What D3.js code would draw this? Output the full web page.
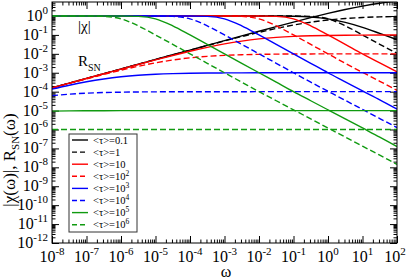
<!DOCTYPE html>
<html><head><meta charset="utf-8">
<script src="https://cdn.jsdelivr.net/npm/d3@7"></script>
<style>
html,body{margin:0;padding:0;background:#fff;}
svg{display:block;font-family:"Liberation Serif","Times New Roman",serif;}
</style></head>
<body><svg id="c" width="409" height="280"></svg>
<script>
// log10(omega) sample grid
const omegaExp = [-8,-7.5,-7,-6.5,-6,-5.5,-5,-4.5,-4,-3.5,-3,-2.5,-2,-1.5,-1,-0.5,0,0.5,1,1.5,2];
// |chi(omega)| as log10 values, one array per <tau>
const chiTau01  = [0,0,0,0,0,0,0,0,0,0,0,0,0,0,-0.01,-0.05,-0.15,-0.34,-0.6,-0.92,-1.25];
const chiTau1   = [0,0,0,0,0,0,0,0,0,0,0,0,0,0,-0.002,-0.021,-0.151,-0.521,-1.002,-1.5,-1.97];
const chiTau1e1 = [0,0,0,0,0,0,0,0,0,0,0,0,-0.002,-0.021,-0.151,-0.521,-1.002,-1.5,-2.0,-2.48,-2.95];
const chiTau1e2 = [0,0,0,0,0,0,0,0,0,0,-0.002,-0.021,-0.151,-0.521,-1.002,-1.5,-2.0,-2.5,-2.98,-3.45,-3.93];
const chiTau1e3 = [0,0,0,0,0,0,0,0,-0.002,-0.021,-0.151,-0.521,-1.002,-1.5,-2.0,-2.5,-3.0,-3.48,-3.96,-4.43,-4.92];
const chiTau1e4 = [0,0,0,0,0,0,-0.002,-0.021,-0.151,-0.521,-1.002,-1.5,-2.0,-2.5,-3.0,-3.5,-3.98,-4.46,-4.94,-5.42,-5.9];
const chiTau1e5 = [0,0,0,0,-0.002,-0.021,-0.151,-0.521,-1.002,-1.5,-2.0,-2.5,-3.0,-3.5,-4.0,-4.48,-4.96,-5.44,-5.92,-6.4,-6.9];
const chiTau1e6 = [0,0,-0.002,-0.021,-0.151,-0.521,-1.002,-1.5,-2.0,-2.5,-3.0,-3.5,-4.0,-4.48,-4.96,-5.44,-5.92,-6.4,-6.88,-7.36,-7.84];
// R_SN(omega) as log10 values
const rsnTau01  = [-3.8,-3.55,-3.3,-3.05,-2.8,-2.55,-2.3,-2.05,-1.801,-1.551,-1.302,-1.054,-0.807,-0.562,-0.321,-0.087,0.136,0.342,0.524,0.673,0.788];
const rsnTau1   = [-3.8,-3.55,-3.3,-3.05,-2.801,-2.552,-2.302,-2.054,-1.807,-1.562,-1.321,-1.087,-0.864,-0.658,-0.476,-0.327,-0.212,-0.132,-0.079,-0.046,-0.027];
const rsnTau1e1 = [-3.801,-3.551,-3.302,-3.054,-2.807,-2.562,-2.321,-2.087,-1.864,-1.658,-1.476,-1.327,-1.212,-1.132,-1.079,-1.046,-1.027,-1.015,-1.009,-1.005,-1.003];
const rsnTau1e2 = [-3.807,-3.562,-3.321,-3.087,-2.864,-2.658,-2.476,-2.327,-2.212,-2.132,-2.079,-2.046,-2.027,-2.015,-2.009,-2.005,-2.003,-2.002,-2.001,-2.001,-2.0];
const rsnTau1e3 = [-3.864,-3.658,-3.476,-3.327,-3.212,-3.132,-3.079,-3.046,-3.027,-3.015,-3.009,-3.005,-3.003,-3.002,-3.001,-3.001,-3.0,-3.0,-3.0,-3.0,-3.0];
const rsnTau1e4 = [-4.212,-4.132,-4.079,-4.046,-4.027,-4.015,-4.009,-4.005,-4.003,-4.002,-4.001,-4.001,-4.0,-4.0,-4.0,-4.0,-4.0,-4.0,-4.0,-4.0,-4.0];
const rsnTau1e5 = [-5.027,-5.015,-5.009,-5.005,-5.003,-5.002,-5.001,-5.001,-5.0,-5.0,-5.0,-5.0,-5.0,-5.0,-5.0,-5.0,-5.0,-5.0,-5.0,-5.0,-5.0];
const rsnTau1e6 = [-6.003,-6.002,-6.001,-6.0,-6.0,-6.0,-6.0,-6.0,-6.0,-6.0,-6.0,-6.0,-6.0,-6.0,-6.0,-6.0,-6.0,-6.0,-6.0,-6.0,-6.0];
// legend labels: base and exponent
const tauBase = ["0.1","1","10","10","10","10","10","10"];
const tauExp  = ["","","","2","3","4","5","6"];
const seriesColors = ["#000000","#000000","#ff0000","#ff0000","#0000ff","#0000ff","#109a10","#109a10"];
const seriesDashed = [false,true,false,true,false,true,false,true];
const chiSeries = [chiTau01,chiTau1,chiTau1e1,chiTau1e2,chiTau1e3,chiTau1e4,chiTau1e5,chiTau1e6];
const rsnSeries = [rsnTau01,rsnTau1,rsnTau1e1,rsnTau1e2,rsnTau1e3,rsnTau1e4,rsnTau1e5,rsnTau1e6];
// tick labels (exponents of 10)
const xTickExp = [-8,-7,-6,-5,-4,-3,-2,-1,0,1,2];
const yTickExp = [0,-1,-2,-3,-4,-5,-6,-7,-8,-9,-10,-11,-12];

const svg = d3.select("#c");
const L = 52, R = 397, T = 2, B = 243;
const x = d3.scaleLog().domain([1e-8, 1e2]).range([L, R]);
const y = d3.scaleLog().domain([1e-12, Math.pow(10, 0.74)]).range([B, T]);

svg.append("defs").append("clipPath").attr("id","clip")
  .append("rect").attr("x",L).attr("y",T).attr("width",R-L).attr("height",B-T);

// minor tick values
const xMinor = [], yMinor = [];
for (let d = -8; d < 2; d++) for (let k = 2; k <= 9; k++) xMinor.push(k*Math.pow(10,d));
for (let d = -12; d <= 0; d++) for (let k = 2; k <= 9; k++) { const v = k*Math.pow(10,d); if (v < Math.pow(10,0.74)) yMinor.push(v); }
const xMajor = xTickExp.map(e => Math.pow(10,e));
const yMajor = yTickExp.map(e => Math.pow(10,e));

function styleAxis(g){ g.select(".domain").remove(); g.selectAll("line").attr("stroke","#000").attr("stroke-width",1); g.selectAll("text").remove(); }
const MJ = 7, MN = 3.5;
svg.append("g").attr("transform",`translate(0,${B})`).call(d3.axisBottom(x).tickValues(xMajor).tickSize(-MJ)).call(styleAxis);
svg.append("g").attr("transform",`translate(0,${B})`).call(d3.axisBottom(x).tickValues(xMinor).tickSize(-MN)).call(styleAxis);
svg.append("g").attr("transform",`translate(0,${T})`).call(d3.axisTop(x).tickValues(xMajor).tickSize(-MJ)).call(styleAxis);
svg.append("g").attr("transform",`translate(0,${T})`).call(d3.axisTop(x).tickValues(xMinor).tickSize(-MN)).call(styleAxis);
svg.append("g").attr("transform",`translate(${L},0)`).call(d3.axisLeft(y).tickValues(yMajor).tickSize(-MJ)).call(styleAxis);
svg.append("g").attr("transform",`translate(${L},0)`).call(d3.axisLeft(y).tickValues(yMinor).tickSize(-MN)).call(styleAxis);
svg.append("g").attr("transform",`translate(${R},0)`).call(d3.axisRight(y).tickValues(yMajor).tickSize(-MJ)).call(styleAxis);
svg.append("g").attr("transform",`translate(${R},0)`).call(d3.axisRight(y).tickValues(yMinor).tickSize(-MN)).call(styleAxis);

// curves
const line = d3.line().x(d => x(Math.pow(10,d[0]))).y(d => y(Math.pow(10,d[1]))).curve(d3.curveMonotoneX);
const gc = svg.append("g").attr("clip-path","url(#clip)");
for (let i = 0; i < 8; i++) {
  [chiSeries[i], rsnSeries[i]].forEach(arr => {
    gc.append("path").datum(omegaExp.map((e,j) => [e, arr[j]]))
      .attr("d", line).attr("fill","none").attr("stroke", seriesColors[i])
      .attr("stroke-width", 1.4).attr("stroke-dasharray", seriesDashed[i] ? "6,3" : null);
  });
}

// frame
svg.append("rect").attr("x",L).attr("y",T).attr("width",R-L).attr("height",B-T)
  .attr("fill","none").attr("stroke","#000").attr("stroke-width",1);

// tick labels
const TF = 16;
xTickExp.forEach(e => {
  const t = svg.append("text").attr("x", Math.min(x(Math.pow(10,e)), 395)).attr("y", 262).attr("text-anchor","middle").attr("font-size",TF);
  t.append("tspan").text("10");
  t.append("tspan").attr("dy",-7).attr("font-size",11).text(e);
});
yTickExp.forEach(e => {
  const t = svg.append("text").attr("x", 48).attr("y", y(Math.pow(10,e)) + 5).attr("text-anchor","end").attr("font-size",TF);
  t.append("tspan").text("10");
  t.append("tspan").attr("dy",-7).attr("font-size",11).text(e);
});

// axis titles
svg.append("text").attr("x", 226).attr("y", 277).attr("text-anchor","middle").attr("font-size",16).text("ω");
const yt = svg.append("text").attr("transform","translate(15,160) rotate(-90)").attr("text-anchor","middle").attr("font-size",17);
yt.append("tspan").text("|χ(ω)|, R");
yt.append("tspan").attr("dy",4).attr("font-size",11).text("SN");
yt.append("tspan").attr("dy",-4).text("(ω)");

// in-plot labels
svg.append("text").attr("x",78).attr("y",31).attr("font-size",15).text("|χ|");
const rl = svg.append("text").attr("x",78).attr("y",66).attr("font-size",15);
rl.append("tspan").text("R");
rl.append("tspan").attr("dy",5).attr("font-size",10).text("SN");

// legend
const lg = svg.append("g");
lg.append("rect").attr("x",69).attr("y",134).attr("width",68).attr("height",98).attr("fill","#fff").attr("stroke","#333").attr("stroke-width",1);
for (let i = 0; i < 8; i++) {
  const ry = 140 + i*12.1;
  lg.append("line").attr("x1",72).attr("x2",88).attr("y1",ry).attr("y2",ry)
    .attr("stroke",seriesColors[i]).attr("stroke-width",1.4).attr("stroke-dasharray", seriesDashed[i] ? "5,3" : null);
  const t = lg.append("text").attr("x",93).attr("y",ry+3.5).attr("font-size",10.5);
  t.append("tspan").text("<τ>=" + tauBase[i]);
  if (tauExp[i]) t.append("tspan").attr("dy",-4).attr("font-size",7.5).text(tauExp[i]);
}
</script></body></html>
